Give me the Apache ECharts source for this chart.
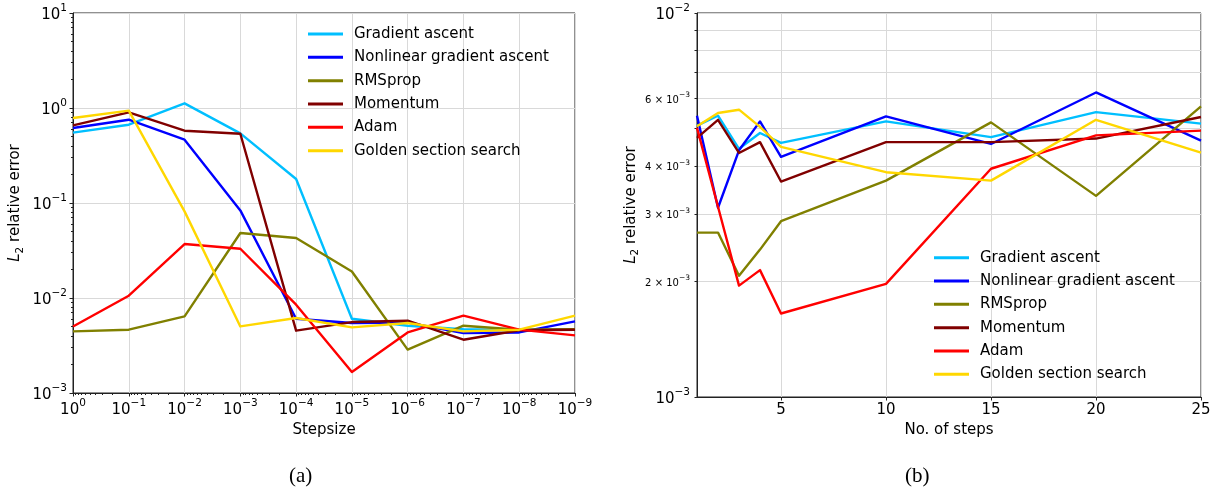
<!DOCTYPE html>
<html><head><meta charset="utf-8">
<script src="https://cdn.jsdelivr.net/npm/echarts@6/dist/echarts.min.js"></script>
<style>html,body{margin:0;padding:0;background:#fff}#c{width:1222px;height:493px}</style>
</head><body><div id="c"></div>
<script>
// ---------- data ----------
const seriesNames = ['Gradient ascent', 'Nonlinear gradient ascent', 'RMSprop', 'Momentum', 'Adam', 'Golden section search'];
const seriesColors = ['#00BFFF', '#0000FF', '#808000', '#800000', '#FF0000', '#FFD700'];

// (a) error vs stepsize
const stepsizes = [1, 1e-1, 1e-2, 1e-3, 1e-4, 1e-5, 1e-6, 1e-7, 1e-8, 1e-9];
const gradA   = [0.55, 0.667, 1.12, 0.54, 0.179, 0.00605, 0.0051, 0.00469, 0.00457, 0.0047];
const nonlinA = [0.616, 0.753, 0.464, 0.0836, 0.00605, 0.00546, 0.0055, 0.00428, 0.00434, 0.00568];
const rmsA    = [0.00445, 0.00464, 0.00641, 0.0483, 0.0428, 0.019, 0.00286, 0.00511, 0.00464, 0.0047];
const momA    = [0.656, 0.90, 0.577, 0.536, 0.00453, 0.00558, 0.00577, 0.00364, 0.00457, 0.00464];
const adamA   = [0.00502, 0.01057, 0.037, 0.033, 0.0085, 0.00166, 0.00434, 0.00651, 0.00464, 0.00404];
const goldA   = [0.785, 0.937, 0.0816, 0.00502, 0.00615, 0.00491, 0.00546, 0.00445, 0.00464, 0.00651];

// (b) error vs number of steps
const steps   = [1, 2, 3, 4, 5, 10, 15, 20, 25];
const gradB   = [5.09e-3, 5.40e-3, 4.43e-3, 4.87e-3, 4.59e-3, 5.22e-3, 4.75e-3, 5.52e-3, 5.15e-3];
const nonlinB = [5.40e-3, 3.11e-3, 4.39e-3, 5.22e-3, 4.22e-3, 5.38e-3, 4.56e-3, 6.21e-3, 4.65e-3];
const rmsB    = [2.68e-3, 2.68e-3, 2.07e-3, 2.42e-3, 2.87e-3, 3.66e-3, 5.19e-3, 3.34e-3, 5.71e-3];
const momB    = [4.73e-3, 5.27e-3, 4.32e-3, 4.61e-3, 3.64e-3, 4.61e-3, 4.61e-3, 4.71e-3, 5.36e-3];
const adamB   = [5.02e-3, 3.13e-3, 1.95e-3, 2.14e-3, 1.65e-3, 1.97e-3, 3.93e-3, 4.80e-3, 4.94e-3];
const goldB   = [5.07e-3, 5.49e-3, 5.60e-3, 5.05e-3, 4.48e-3, 3.85e-3, 3.66e-3, 5.27e-3, 4.33e-3];

// tick values
const leftYTicks  = [1e-3, 1e-2, 1e-1, 1, 10];
const rightXTicks = [5, 10, 15, 20, 25];
const rightYTicks = [1e-3, 2e-3, 3e-3, 4e-3, 5e-3, 6e-3, 7e-3, 8e-3, 9e-3, 1e-2];
const rightYLabels = [1e-3, 2e-3, 3e-3, 4e-3, 6e-3, 1e-2];
const xLabelA = 'Stepsize';
const xLabelB = 'No. of steps';
const yLabel = '{i|L}{sub|2}{t| relative error}';
const captions = ['(a)', '(b)'];

// ---------- helpers ----------
const FONT = 'DejaVu Sans';
function minorTicks(kFrom, kTo) {
  const out = [];
  for (let k = kFrom; k < kTo; k++) for (let m = 2; m <= 9; m++) out.push(+(m * Math.pow(10, k)).toPrecision(6));
  return out;
}
function expStr(e) { return e < 0 ? '\u2212' + (-e) : String(e); }
function powLabel(v) {
  const e = Math.round(Math.log10(v));
  return '{b|10}{s|' + expStr(e) + '}';
}
function rightYLabel(v) {
  const e = Math.floor(Math.log10(v) + 1e-9);
  const m = Math.round(v / Math.pow(10, e));
  if (m === 1) return '{b|10}{s|' + expStr(e) + '}';
  return '{m|' + m + ' \u00D7 10}{ms|' + expStr(e) + '}';
}
const richPow = {
  b: { fontSize: 15, fontFamily: FONT, color: '#000', lineHeight: 20, verticalAlign: 'bottom' },
  s: { fontSize: 10.5, fontFamily: FONT, color: '#000', lineHeight: 12, verticalAlign: 'top' },
  m: { fontSize: 10, fontFamily: FONT, color: '#000', lineHeight: 14, verticalAlign: 'bottom' },
  ms: { fontSize: 7.5, fontFamily: FONT, color: '#000', lineHeight: 9, verticalAlign: 'top' }
};
const richName = {
  i: { fontSize: 15, fontFamily: FONT, fontStyle: 'italic', color: '#000', lineHeight: 18, verticalAlign: 'top' },
  sub: { fontSize: 10.5, fontFamily: FONT, color: '#000', lineHeight: 12, verticalAlign: 'bottom' },
  t: { fontSize: 15, fontFamily: FONT, color: '#000', lineHeight: 18, verticalAlign: 'top' }
};
const AX = '#222';
const LW = 2.4;
const gridLine = { show: true, lineStyle: { color: '#d9d9d9', width: 1 } };

const leftData = [gradA, nonlinA, rmsA, momA, adamA, goldA];
const rightData = [gradB, nonlinB, rmsB, momB, adamB, goldB];

const series = [];
leftData.forEach((vals, i) => {
  series.push({
    type: 'line', name: seriesNames[i], xAxisIndex: 0, yAxisIndex: 0,
    data: stepsizes.map((x, j) => [x, vals[j]]),
    symbol: 'none', showSymbol: false, animation: false,
    lineStyle: { width: LW, color: seriesColors[i], join: 'round' },
    itemStyle: { color: seriesColors[i] }
  });
});
rightData.forEach((vals, i) => {
  series.push({
    type: 'line', name: seriesNames[i], xAxisIndex: 2, yAxisIndex: 2,
    data: steps.map((x, j) => [x, vals[j]]),
    symbol: 'none', showSymbol: false, animation: false,
    lineStyle: { width: LW, color: seriesColors[i], join: 'round' },
    itemStyle: { color: seriesColors[i] }
  });
});

const legendBase = {
  data: seriesNames, orient: 'vertical', icon: 'rect', itemWidth: 35, itemHeight: 3, itemGap: 5.33,
  selectedMode: false, padding: 0,
  textStyle: { fontSize: 15, fontFamily: FONT, color: '#000', lineHeight: 18, padding: [0, 0, 0, 6] }
};

const option = {
  animation: false,
  backgroundColor: '#fff',
  grid: [
    { left: 73, top: 13, width: 502, height: 380, show: true, borderColor: AX, borderWidth: 1, backgroundColor: 'transparent' },
    { left: 697, top: 13, width: 504, height: 384, show: true, borderColor: AX, borderWidth: 1, backgroundColor: 'transparent' }
  ],
  legend: [
    Object.assign({}, legendBase, { left: 308, top: 25 }),
    Object.assign({}, legendBase, { left: 934, top: 248.7 })
  ],
  xAxis: [
    {
      gridIndex: 0, type: 'log', logBase: 10, inverse: true, min: 1e-9, max: 1, position: 'bottom',
      axisLine: { onZero: false, lineStyle: { color: AX } },
      axisTick: { customValues: stepsizes, length: 3.5, lineStyle: { color: AX } },
      axisLabel: { customValues: stepsizes, formatter: powLabel, rich: richPow, margin: 5 },
      splitLine: gridLine,
      name: xLabelA, nameLocation: 'middle', nameGap: 27,
      nameTextStyle: { fontSize: 15, fontFamily: FONT, color: '#000' }
    },
    {
      gridIndex: 0, type: 'log', logBase: 10, inverse: true, min: 1e-9, max: 1, position: 'bottom', offset: 0,
      axisLine: { show: false, onZero: false },
      axisTick: { customValues: minorTicks(-9, 0), length: 2, lineStyle: { color: AX } },
      axisLabel: { show: false }, splitLine: { show: false }
    },
    {
      gridIndex: 1, type: 'value', min: 1, max: 25, position: 'bottom',
      axisLine: { onZero: false, lineStyle: { color: AX } },
      axisTick: { customValues: rightXTicks, length: 3.5, lineStyle: { color: AX } },
      axisLabel: { customValues: rightXTicks, fontSize: 15, fontFamily: FONT, color: '#000', margin: 6 },
      splitLine: gridLine,
      name: xLabelB, nameLocation: 'middle', nameGap: 26,
      nameTextStyle: { fontSize: 15, fontFamily: FONT, color: '#000' }
    }
  ],
  yAxis: [
    {
      gridIndex: 0, type: 'log', logBase: 10, min: 1e-3, max: 10, position: 'left',
      axisLine: { onZero: false, lineStyle: { color: AX } },
      axisTick: { customValues: leftYTicks, length: 3.5, lineStyle: { color: AX } },
      axisLabel: { customValues: leftYTicks, formatter: powLabel, rich: richPow, margin: 6 },
      splitLine: gridLine,
      name: yLabel, nameLocation: 'middle', nameRotate: 90, nameGap: 47,
      nameTextStyle: { rich: richName }
    },
    {
      gridIndex: 0, type: 'log', logBase: 10, min: 1e-3, max: 10, position: 'left', offset: 0,
      axisLine: { show: false, onZero: false },
      axisTick: { customValues: minorTicks(-3, 1), length: 2, lineStyle: { color: AX } },
      axisLabel: { show: false }, splitLine: { show: false }
    },
    {
      gridIndex: 1, type: 'log', logBase: 10, min: 1e-3, max: 1e-2, position: 'left',
      axisLine: { onZero: false, lineStyle: { color: AX } },
      axisTick: { customValues: rightYTicks, length: 2.5, lineStyle: { color: AX } },
      axisLabel: { customValues: rightYLabels, formatter: rightYLabel, rich: richPow, margin: 7 },
      splitLine: gridLine,
      name: yLabel, nameLocation: 'middle', nameRotate: 90, nameGap: 51,
      nameTextStyle: { rich: richName }
    }
  ],
  graphic: [
    { type: 'text', left: 289, top: 466, style: { text: captions[0], font: '21px "Liberation Serif"', fill: '#000' } },
    { type: 'text', left: 905, top: 466, style: { text: captions[1], font: '21px "Liberation Serif"', fill: '#000' } }
  ],
  series: series
};

const chart = echarts.init(document.getElementById('c'), null, { renderer: 'canvas' });
chart.setOption(option);
</script>
</body></html>
